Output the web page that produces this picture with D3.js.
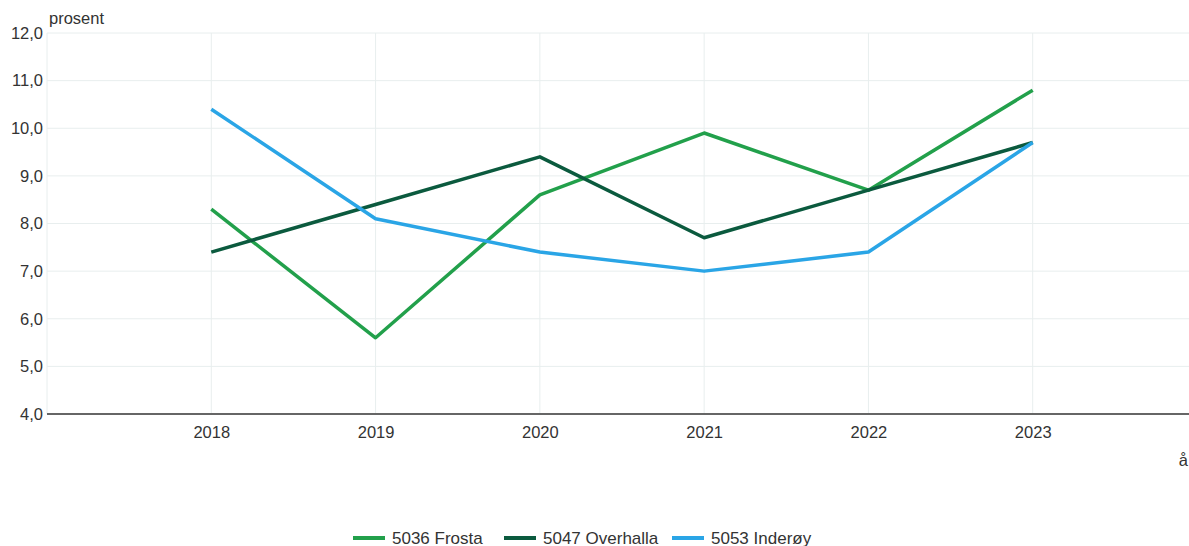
<!DOCTYPE html>
<html>
<head>
<meta charset="utf-8">
<script src="https://cdn.jsdelivr.net/npm/d3@7"></script>
<style>
  body { margin: 0; background: #fff; }
  svg { display: block; font-family: "Liberation Sans", Arial, sans-serif; }
</style>
</head>
<body>
<svg id="chart"></svg>
<script>
const years = [2018, 2019, 2020, 2021, 2022, 2023];
const yTicks = [4, 5, 6, 7, 8, 9, 10, 11, 12];
const seriesNames = ["5036 Frosta", "5047 Overhalla", "5053 Inderøy"];
const frosta = [8.3, 5.6, 8.6, 9.9, 8.7, 10.8];
const overhalla = [7.4, 8.4, 9.4, 7.7, 8.7, 9.7];
const inderoy = [10.4, 8.1, 7.4, 7.0, 7.4, 9.7];
const colors = ["#22a04b", "#0b5a3e", "#2aa5e6"];

const width = 1189, height = 546;
const margin = { top: 33, left: 47, bottom: 132 };
const fontSize = 16.5;

const svg = d3.select("#chart").attr("width", width).attr("height", height);

const x = d3.scaleLinear().domain([2017, 2024]).range([margin.left, 1197]);
const y = d3.scaleLinear().domain([4, 12]).range([height - margin.bottom, margin.top]);

// gridlines
svg.append("g")
  .selectAll("line")
  .data(yTicks.slice(1))
  .join("line")
  .attr("x1", margin.left).attr("x2", width)
  .attr("y1", d => y(d)).attr("y2", d => y(d))
  .attr("stroke", "#e8eeee").attr("stroke-width", 1);

svg.append("g")
  .selectAll("line")
  .data(years)
  .join("line")
  .attr("x1", d => x(d)).attr("x2", d => x(d))
  .attr("y1", y(12)).attr("y2", y(4))
  .attr("stroke", "#e8eeee").attr("stroke-width", 1);

svg.append("line")
  .attr("x1", margin.left).attr("x2", margin.left)
  .attr("y1", y(12)).attr("y2", y(4))
  .attr("stroke", "#e8eeee");

// y axis labels
const yAxis = svg.append("g")
  .attr("transform", `translate(${margin.left},0)`)
  .call(d3.axisLeft(y).tickValues(yTicks).tickSize(0).tickPadding(4)
    .tickFormat(d => d3.format(".1f")(d).replace(".", ",")));
yAxis.select(".domain").remove();
yAxis.selectAll("text").attr("font-size", fontSize).attr("fill", "#333").attr("font-family", "Liberation Sans, Arial, sans-serif");

// x axis
const xAxis = svg.append("g")
  .attr("transform", `translate(0,${y(4)})`)
  .call(d3.axisBottom(x).tickValues(years).tickSize(0).tickPadding(12).tickFormat(d3.format("d")));
xAxis.select(".domain").remove();
xAxis.selectAll("text").attr("font-size", fontSize).attr("fill", "#333").attr("font-family", "Liberation Sans, Arial, sans-serif");

svg.append("line")
  .attr("x1", margin.left).attr("x2", width)
  .attr("y1", y(4)).attr("y2", y(4))
  .attr("stroke", "#666").attr("stroke-width", 2);

// lines
const series = [frosta, overhalla, inderoy];
const line = d3.line().x((d, i) => x(years[i])).y(d => y(d));

svg.append("g")
  .selectAll("path")
  .data(series)
  .join("path")
  .attr("d", d => line(d))
  .attr("fill", "none")
  .attr("stroke", (d, i) => colors[i])
  .attr("stroke-width", 3.5)
  .attr("stroke-linejoin", "round");

// axis titles
svg.append("text")
  .attr("x", 49).attr("y", 24)
  .attr("font-size", fontSize).attr("fill", "#333")
  .text("prosent");

svg.append("text")
  .attr("x", 1188).attr("y", 466)
  .attr("text-anchor", "end")
  .attr("font-size", fontSize).attr("fill", "#333")
  .text("å");

// legend
const legendX = [353, 504, 672];
const legend = svg.append("g")
  .selectAll("g")
  .data(seriesNames)
  .join("g")
  .attr("transform", (d, i) => `translate(${legendX[i]},538)`);

legend.append("line")
  .attr("x1", 0).attr("x2", 32)
  .attr("stroke", (d, i) => colors[i])
  .attr("stroke-width", 4);

legend.append("text")
  .attr("x", 39).attr("y", 6)
  .attr("font-size", 17).attr("fill", "#333")
  .text(d => d);
</script>
</body>
</html>
